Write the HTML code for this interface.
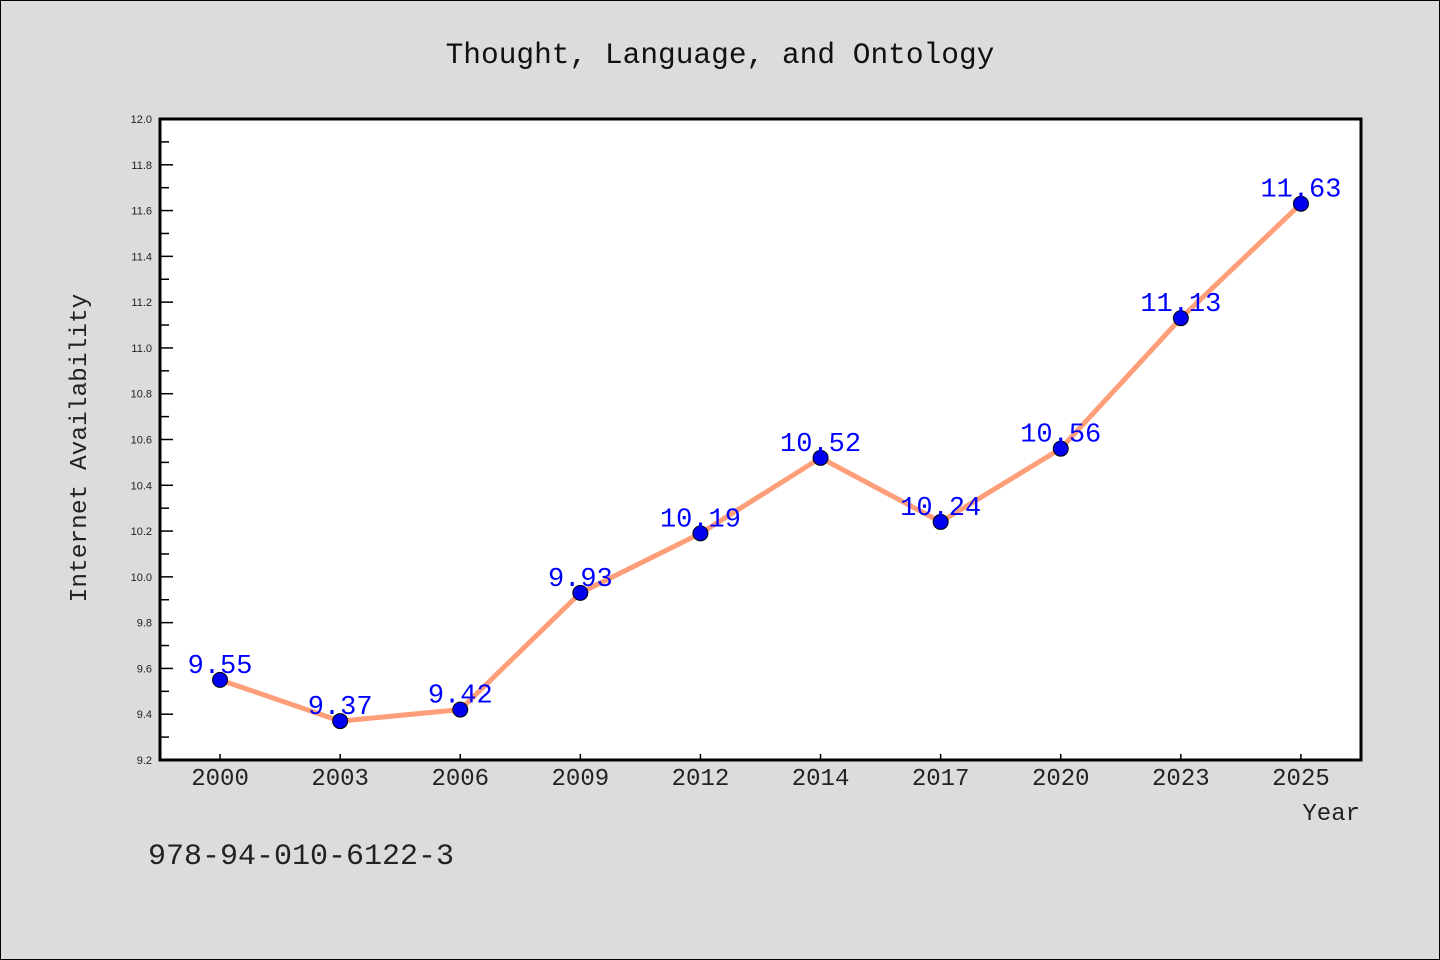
<!DOCTYPE html>
<html><head><meta charset="utf-8"><style>
body{margin:0;background:#dcdcdc;}
svg{display:block;font-family:"Liberation Mono","WenQuanYi Zen Hei",monospace;}
</style></head><body>
<svg width="1440" height="960" viewBox="0 0 1440 960">
<rect x="0.5" y="0.5" width="1439" height="959" fill="#dcdcdc" stroke="#000"/>
<text x="720" y="63" text-anchor="middle" font-size="29.5" fill="#111">Thought, Language, and Ontology</text>
<rect x="160" y="119" width="1201" height="641" fill="#fff"/>
<g id="grid"></g>
<g id="series"></g>
<rect x="160" y="119" width="1201" height="641" fill="none" stroke="#000" stroke-width="3"/>
<text x="86" y="448" text-anchor="middle" font-size="24.5" fill="#222" transform="rotate(-90 86 448)">Internet Availability</text>
<text x="1360" y="820" text-anchor="end" font-size="24" fill="#222">Year</text>
<text x="148" y="864" font-size="30" fill="#222">978-94-010-6122-3</text>
</svg>
<script>
const categories=["2000","2003","2006","2009","2012","2014","2017","2020","2023","2025"];
const values=[9.55,9.37,9.42,9.93,10.19,10.52,10.24,10.56,11.13,11.63];
const yTicks=["9.2","9.4","9.6","9.8","10.0","10.2","10.4","10.6","10.8","11.0","11.2","11.4","11.6","11.8","12.0"];
const NS="http://www.w3.org/2000/svg";
const L=160,R=1361,T=119,B=760,yMin=9.2,yMax=12.0;
const band=(R-L)/categories.length;
function xs(i){return L+band*(i+0.5);}
function ys(v){return B-(v-yMin)/(yMax-yMin)*(B-T);}
function mk(tag,attrs,parent){const e=document.createElementNS(NS,tag);for(const k in attrs)e.setAttribute(k,attrs[k]);parent.appendChild(e);return e;}
const g=document.getElementById('grid'),s=document.getElementById('series');
yTicks.forEach((t,i)=>{const v=parseFloat(t),y=ys(v);
 const ln=mk('line',{x1:L,x2:L+13,y1:y,y2:y,stroke:'#000','stroke-width':1.5},g);
 
 
 const tx=mk('text',{x:L-8,y:y+4,'text-anchor':'end','font-size':11,fill:'#222','font-family':'Liberation Sans, sans-serif'},g);tx.textContent=t;
 
 
 if(i<yTicks.length-1){const ym=ys(v+0.1);
  const m=mk('line',{x1:L,x2:L+9,y1:ym,y2:ym,stroke:'#000','stroke-width':1.5},g);
  
  }
});
categories.forEach((c,i)=>{const x=xs(i);
 const ln=mk('line',{x1:x,x2:x,y1:B,y2:B-6,stroke:'#000','stroke-width':1.5},g);
 
 
 const tx=mk('text',{x:x,y:B+25,'text-anchor':'middle','font-size':24,fill:'#222'},g);tx.textContent=c;
 
 
});
const pl=mk('polyline',{points:values.map((v,i)=>xs(i)+','+ys(v)).join(' '),fill:'none',stroke:'#ff9f7a','stroke-width':5,'stroke-linejoin':'round'},s);


values.forEach((v,i)=>{
 const c=mk('circle',{cx:xs(i),cy:ys(v),r:7.5,fill:'#0000ee',stroke:'#000','stroke-width':1},s);
 
 
});
values.forEach((v,i)=>{
 const t=mk('text',{x:xs(i),y:ys(v)-7,'text-anchor':'middle','font-size':27,fill:'#0000ff'},s);t.textContent=v.toFixed(2);
 
 
});
</script>
</body></html>
